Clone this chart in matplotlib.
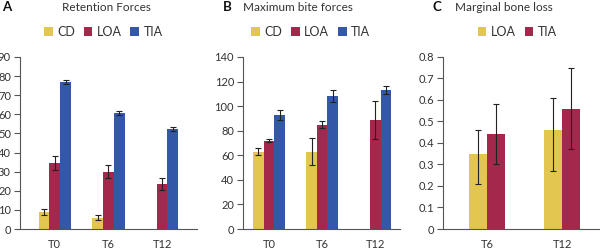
import numpy as np
import matplotlib
matplotlib.use('Agg')
from matplotlib import pyplot as plt
from matplotlib.ticker import FuncFormatter

plt.rcParams['font.family'] = ['Lato', 'DejaVu Sans']
plt.rcParams['text.color'] = '#333333'
plt.rcParams['axes.edgecolor'] = '#555555'
plt.rcParams['xtick.color'] = '#555555'
plt.rcParams['ytick.color'] = '#555555'
plt.rcParams['xtick.labelcolor'] = '#333333'
plt.rcParams['ytick.labelcolor'] = '#333333'

# colours
yellow = '#E3C64F'
red = '#A3284B'
blue = '#3458A8'

# A: Retention forces
times_a = ['T0', 'T6', 'T12']
ret_cd = [9, 6, np.nan]
ret_cd_err = [1.5, 1.5, np.nan]
ret_loa = [34.5, 30, 23.5]
ret_loa_err = [3.5, 3.5, 3.0]
ret_tia = [77, 60.5, 52.5]
ret_tia_err = [1.0, 1.0, 1.0]

# B: Maximum bite forces
times_b = ['T0', 'T6', 'T12']
bite_cd = [63, 63, np.nan]
bite_cd_err = [3, 11, np.nan]
bite_loa = [72, 85, 89]
bite_loa_err = [1.5, 3, 15.5]
bite_tia = [93, 108, 113]
bite_tia_err = [4, 5, 3]

# C: Marginal bone loss
times_c = ['T6', 'T12']
mbl_loa = [0.35, 0.46]
mbl_loa_lo = [0.14, 0.19]
mbl_loa_hi = [0.11, 0.15]
mbl_tia = [0.44, 0.56]
mbl_tia_lo = [0.14, 0.19]
mbl_tia_hi = [0.14, 0.19]

fig = plt.figure(figsize=(6.0, 2.49), dpi=100)
bot, hgt = 0.0803, 0.691
axA = fig.add_axes([0.0333, bot, 0.295, hgt])
axB = fig.add_axes([0.405, bot, 0.262, hgt])
axC = fig.add_axes([0.738, bot, 0.262, hgt])

ekw = dict(ecolor='#222222', elinewidth=0.8, capsize=2.5, capthick=0.8)


def style(ax, labels, ylim, step, xlim):
    ax.set_xticks(np.arange(len(labels)))
    ax.set_xticklabels(labels)
    ax.set_xlim(*xlim)
    ax.set_ylim(*ylim)
    ax.set_yticks(np.arange(ylim[0], ylim[1] + step / 2, step))
    ax.spines['top'].set_visible(False)
    ax.spines['right'].set_visible(False)
    ax.spines['left'].set_linewidth(0.8)
    ax.spines['bottom'].set_linewidth(0.8)
    ax.tick_params(axis='x', length=0, pad=7, labelsize=8)
    ax.tick_params(axis='y', length=4, width=0.8, pad=2.5, labelsize=8)


# panel A
x = np.arange(len(times_a))
w = 0.2
axA.bar(x - w, ret_cd, w, color=yellow, yerr=ret_cd_err, error_kw=ekw, label='CD')
axA.bar(x, ret_loa, w, color=red, yerr=ret_loa_err, error_kw=ekw, label='LOA')
axA.bar(x + w, ret_tia, w, color=blue, yerr=ret_tia_err, error_kw=ekw, label='TIA')
style(axA, times_a, (0, 90), 10, (-0.65, 2.65))
axA.yaxis.set_major_formatter(FuncFormatter(lambda v, p: '%d' % v))

# panel B
x = np.arange(len(times_b))
axB.bar(x - w, bite_cd, w, color=yellow, yerr=bite_cd_err, error_kw=ekw, label='CD')
axB.bar(x, bite_loa, w, color=red, yerr=bite_loa_err, error_kw=ekw, label='LOA')
axB.bar(x + w, bite_tia, w, color=blue, yerr=bite_tia_err, error_kw=ekw, label='TIA')
style(axB, times_b, (0, 140), 20, (-0.49, 2.47))
axB.yaxis.set_major_formatter(FuncFormatter(lambda v, p: '%d' % v))

# panel C
x = np.arange(len(times_c))
wc = 0.24
axC.bar(x - wc / 2, mbl_loa, wc, color=yellow,
        yerr=[mbl_loa_lo, mbl_loa_hi], error_kw=ekw, label='LOA')
axC.bar(x + wc / 2, mbl_tia, wc, color=red,
        yerr=[mbl_tia_lo, mbl_tia_hi], error_kw=ekw, label='TIA')
style(axC, times_c, (0, 0.8), 0.1, (-0.59, 1.5))
axC.yaxis.set_major_formatter(FuncFormatter(lambda v, p: '0' if v == 0 else '%.1f' % v))

# titles, panel letters, legends
ty = 0.97
for ax, letter, lx, title, tx, lgx in [
        (axA, 'A', 0.012, 'Retention Forces', 0.177, 0.172),
        (axB, 'B', 0.378, 'Maximum bite forces', 0.497, 0.518),
        (axC, 'C', 0.728, 'Marginal bone loss', 0.84, 0.862)]:
    fig.text(lx, ty, letter, fontsize=9.5, fontweight='bold', color='#111111',
             ha='center', va='center')
    fig.text(tx, ty, title, fontsize=8.5, ha='center', va='center')
    ax.legend(loc='center', bbox_to_anchor=(lgx, 0.871), bbox_transform=fig.transFigure,
              ncol=3, frameon=False, fontsize=9, handlelength=0.7, handleheight=0.7,
              handletextpad=0.35, columnspacing=0.7, borderaxespad=0)

fig.savefig('out.png', dpi=100)
